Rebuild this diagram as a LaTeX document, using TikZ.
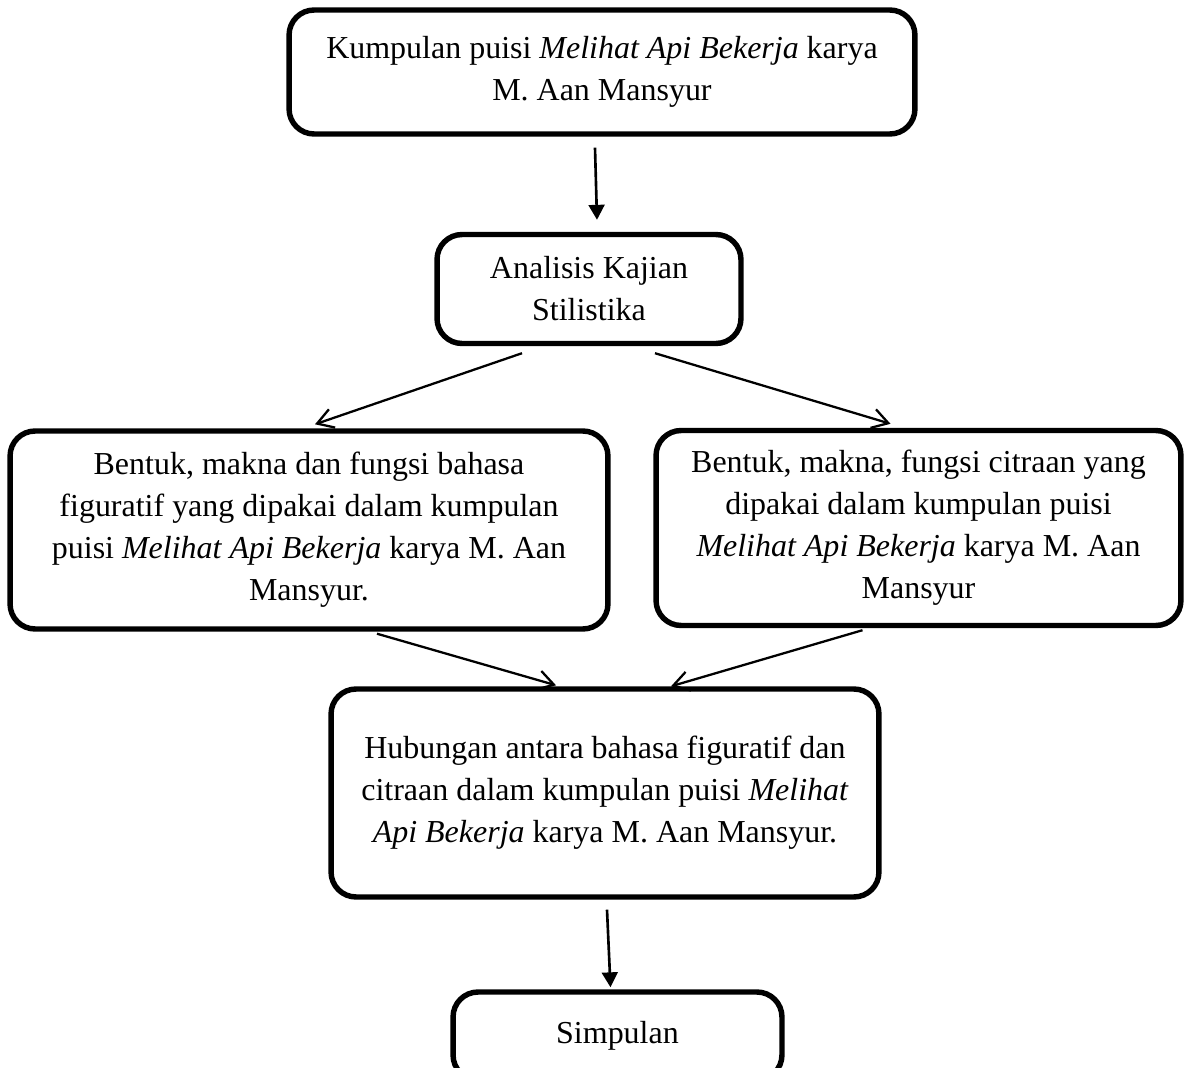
\documentclass[tikz,border=0pt]{standalone}
\usepackage{fontspec}
\setmainfont{Liberation Serif}
\usepackage{tikz}
\usetikzlibrary{arrows.meta,calc}

\begin{document}
\begin{tikzpicture}[x=0.02cm,y=-0.02cm,
		kotak/.style={draw,line width=3.1pt,rounded corners=0.5cm,align=center,inner sep=0pt,font=\fontsize{18.2}{23.9}\selectfont},
		panah/.style={-{Triangle[length=8.5pt,width=9pt]},line width=1.5pt},
		panahmiring/.style={-{Straight Barb[length=9pt,width=11pt]},line width=1.3pt}]
		\useasboundingbox (0,0) rectangle (1184,1068);
		\clip (0,0) rectangle (1184,1068);
		\node[kotak,minimum width=12.52cm,minimum height=2.48cm] (kumpulan) at (602,72) {Kumpulan puisi \textit{Melihat Api Bekerja} karya\\M. Aan Mansyur};
		\node[kotak,minimum width=6.08cm,minimum height=2.18cm] (analisis) at (589,289) {Analisis Kajian\\Stilistika};
		\node[kotak,minimum width=11.96cm,minimum height=3.96cm] (figuratif) at (309,530) {Bentuk, makna dan fungsi bahasa\\figuratif yang dipakai dalam kumpulan\\puisi \textit{Melihat Api Bekerja} karya M. Aan\\Mansyur.};
		\node[kotak,minimum width=10.5cm,minimum height=3.9cm] (citraan) at (918.5,528) {Bentuk, makna, fungsi citraan yang\\dipakai dalam kumpulan puisi\\\textit{Melihat Api Bekerja} karya M. Aan\\Mansyur};
		\node[kotak,minimum width=10.96cm,minimum height=4.16cm] (hubungan) at (605,793) {Hubungan antara bahasa figuratif dan\\citraan dalam kumpulan puisi \textit{Melihat}\\\textit{Api Bekerja} karya M. Aan Mansyur.};
		\node[kotak,minimum width=6.58cm,minimum height=1.76cm] (simpulan) at (617.5,1036) {Simpulan};
		\draw[panah] ($(kumpulan.south)+(-7,11)$) -- ($(analisis.north)+(8,-12)$);
		\draw[panahmiring] ($(analisis.south)+(-67,7)$) -- ($(figuratif.north)+(6,-4)$);
		\draw[panahmiring] ($(analisis.south)+(66,7)$) -- ($(citraan.north)+(-28,-4)$);
		\draw[panahmiring] ($(figuratif.south)+(68,2)$) -- ($(hubungan.north)+(-49,-1)$);
		\draw[panahmiring] ($(citraan.south)+(-56,2)$) -- ($(hubungan.north)+(66,0)$);
		\draw[panah] ($(hubungan.south)+(2,10)$) -- ($(simpulan.north)+(-7,-2)$);
	\end{tikzpicture}
\end{document}
